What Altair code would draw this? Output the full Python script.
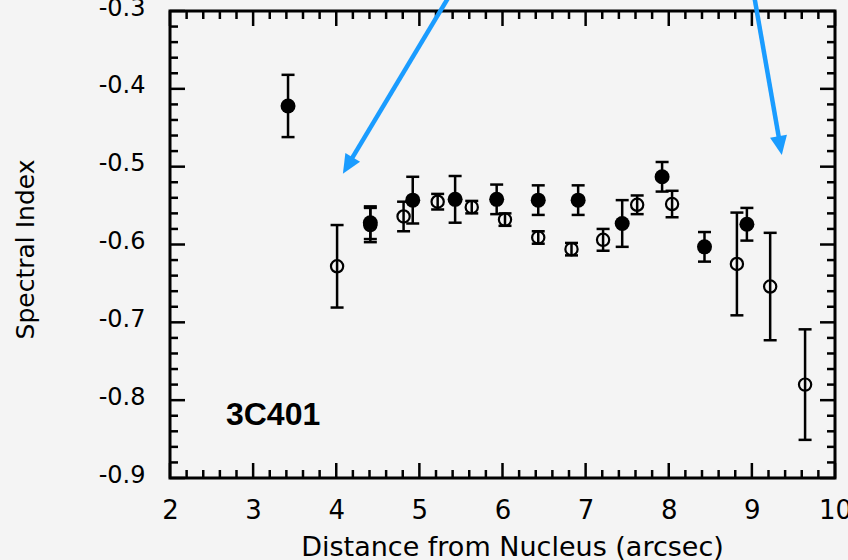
import altair as alt
import pandas as pd

# ---- data ----
filled_x = [3.42, 4.41, 4.92, 5.43, 5.93, 6.43, 6.91, 7.44, 7.92, 8.43, 8.94]
filled_y = [-0.422, -0.572, -0.543, -0.542, -0.542, -0.543, -0.543, -0.573, -0.513, -0.603, -0.574]
filled_err = [0.040, 0.021, 0.030, 0.030, 0.019, 0.019, 0.019, 0.030, 0.019, 0.019, 0.021]

open_x = [4.01, 4.41, 4.81, 5.22, 5.63, 6.03, 6.43, 6.83, 7.21, 7.62, 8.04, 8.82, 9.22, 9.64]
open_y = [-0.628, -0.575, -0.564, -0.545, -0.552, -0.568, -0.591, -0.606, -0.594, -0.549, -0.548, -0.625, -0.654, -0.780]
open_err = [0.053, 0.022, 0.019, 0.010, 0.008, 0.008, 0.008, 0.008, 0.014, 0.012, 0.017, 0.066, 0.069, 0.071]

x_major = [2, 3, 4, 5, 6, 7, 8, 9, 10]
x_minor = [round(2 + 0.2 * i, 1) for i in range(41) if i % 5 != 0]
y_major = [-0.9, -0.8, -0.7, -0.6, -0.5, -0.4, -0.3]
y_minor = [round(-0.9 + 0.02 * i, 2) for i in range(31) if i % 5 != 0]

label_x = [3.24]
label_y = [-0.819]
label_text = ["3C401"]

# annotation arrows (start above the frame, shaft end, tip, head angle)
arrow_x0 = [5.42, 9.01]
arrow_y0 = [-0.270, -0.270]
arrow_x1 = [4.14, 9.34]
arrow_y1 = [-0.498, -0.472]
tip_x = [4.08, 9.36]
tip_y = [-0.509, -0.485]
tip_angle = [211, 170]

# ---- frames ----
filled = pd.DataFrame({"x": filled_x, "y": filled_y, "err": filled_err})
filled["lo"] = filled["y"] - filled["err"]
filled["hi"] = filled["y"] + filled["err"]
opn = pd.DataFrame({"x": open_x, "y": open_y, "err": open_err})
opn["lo"] = opn["y"] - opn["err"]
opn["hi"] = opn["y"] + opn["err"]
arrows = pd.DataFrame({"x0": arrow_x0, "y0": arrow_y0, "x1": arrow_x1, "y1": arrow_y1,
                       "tx": tip_x, "ty": tip_y, "ang": tip_angle})
labels = pd.DataFrame({"x": label_x, "y": label_y, "t": label_text})

W, H = 665, 467
FONT = "DejaVu Sans"
XS = alt.Scale(domain=[2, 10], nice=False, zero=False)
YS = alt.Scale(domain=[-0.9, -0.3], nice=False, zero=False)

XAX = alt.Axis(values=x_major, format="d", ticks=False, domain=False, grid=False,
               tickSize=0, labelPadding=19, labelFontSize=26, labelFont=FONT,
               labelColor="black", labelFlush=False,
               title="Distance from Nucleus (arcsec)",
               titleFont=FONT, titleFontSize=27, titleFontWeight="normal",
               titleColor="black", titleX=342, titleY=77, titleAlign="center",
               titleBaseline="alphabetic")
YAX = alt.Axis(values=y_major, labelExpr="'-' + format(abs(datum.value), '.1f')",
               ticks=False, domain=False, grid=False, tickSize=0, labelPadding=25,
               labelFontSize=24, labelFont=FONT, labelColor="black",
               labelFlush=False, labelOffset=-3,
               title="Spectral Index", titleFont=FONT, titleFontSize=25,
               titleFontWeight="normal", titleColor="black", titleAngle=270,
               titleX=-137, titleY=238, titleAlign="center", titleBaseline="alphabetic")


def X(f):
    return alt.X(f, type="quantitative", scale=XS, axis=XAX)


def Y(f):
    return alt.Y(f, type="quantitative", scale=YS, axis=YAX)


def ticks_x(vals, length, side):
    d = pd.DataFrame({"v": vals})
    if side == "bottom":
        yy, yy2 = H, H - length
    else:
        yy, yy2 = 0, length
    return alt.Chart(d).mark_rule(color="black", strokeWidth=2.5).encode(
        x=X("v"), y=alt.value(yy), y2=alt.value(yy2))


def ticks_y(vals, length, side):
    d = pd.DataFrame({"v": vals})
    if side == "left":
        xx, xx2 = 0, length
    else:
        xx, xx2 = W, W - length
    return alt.Chart(d).mark_rule(color="black", strokeWidth=2.5).encode(
        y=Y("v"), x=alt.value(xx), x2=alt.value(xx2))


tick_layers = []
for side in ["bottom", "top"]:
    tick_layers.append(ticks_x(x_major, 15, side))
    tick_layers.append(ticks_x(x_minor, 8, side))
for side in ["left", "right"]:
    tick_layers.append(ticks_y(y_major, 15, side))
    tick_layers.append(ticks_y(y_minor, 8, side))


def errorbars(df):
    base = alt.Chart(df)
    bar = base.mark_rule(color="black", strokeWidth=2.5).encode(
        x=X("x"), y=Y("lo"), y2="hi")
    cap_lo = base.mark_tick(orient="horizontal", size=13, thickness=2.5,
                            color="black", opacity=1).encode(x=X("x"), y=Y("lo"))
    cap_hi = base.mark_tick(orient="horizontal", size=13, thickness=2.5,
                            color="black", opacity=1).encode(x=X("x"), y=Y("hi"))
    return [bar, cap_lo, cap_hi]


open_pts = alt.Chart(opn).mark_point(shape="circle", filled=False, size=150,
                                     strokeWidth=2.2, color="black", opacity=1).encode(
    x=X("x"), y=Y("y"))
filled_pts = alt.Chart(filled).mark_point(shape="circle", filled=True, size=225,
                                          color="black", opacity=1).encode(
    x=X("x"), y=Y("y"))

txt = alt.Chart(labels).mark_text(font="Liberation Sans", fontSize=32,
                                  fontWeight="bold", color="black",
                                  align="center", baseline="middle").encode(
    x=X("x"), y=Y("y"), text="t:N")

shaft = alt.Chart(arrows).mark_rule(color="#1a9cff", strokeWidth=4.5,
                                    clip=False).encode(
    x=X("x0"), y=Y("y0"), x2="x1", y2="y1")
head = alt.Chart(arrows).mark_point(shape="M0,0 L0.45,1 L-0.45,1 Z", size=1450,
                                    filled=True, color="#1a9cff", opacity=1,
                                    clip=False).encode(
    x=X("tx"), y=Y("ty"), angle=alt.Angle("ang:Q", scale=None))

layers = (tick_layers + errorbars(opn) + [open_pts] + errorbars(filled)
          + [filled_pts, txt, shaft, head])

chart = alt.layer(*layers).properties(
    width=W, height=H,
    autosize=alt.AutoSizeParams(type="none"),
    padding={"left": 170, "top": 11, "right": 13, "bottom": 82},
).configure(background="#f4f4f4").configure_view(stroke="black", strokeWidth=3)

chart.save("out.html", embed_options={"renderer": "svg", "actions": False})
